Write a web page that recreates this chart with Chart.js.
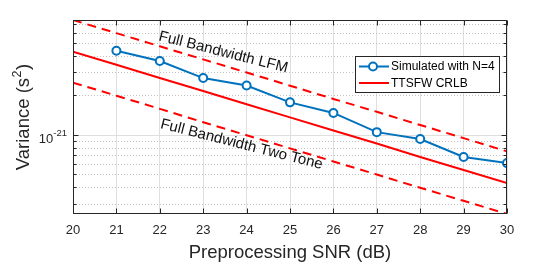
<!DOCTYPE html>
<html>
<head>
<meta charset="utf-8">
<script src="https://cdn.jsdelivr.net/npm/chart.js@4/dist/chart.umd.min.js"></script>
<style>
    html, body { margin: 0; padding: 0; background: #fff; }
    #wrap { width: 560px; height: 264px; }
</style>
</head>
<body>
<div id="wrap"><canvas id="varChart" width="560" height="264"></canvas></div>
<script>
// Data (variance in s^2 vs preprocessing SNR in dB)
const snrValues = [20, 21, 22, 23, 24, 25, 26, 27, 28, 29, 30];
const simSnrValues = [21, 22, 23, 24, 25, 26, 27, 28, 29, 30];
const simulatedVar = [4.38e-21, 3.65e-21, 2.71e-21, 2.38e-21, 1.77e-21, 1.47e-21, 1.05e-21, 9.3e-22, 6.8e-22, 6.1e-22];
const crlbVar = [4.3e-21, 3.42e-21, 2.71e-21, 2.16e-21, 1.71e-21, 1.36e-21, 1.08e-21, 8.6e-22, 6.8e-22, 5.4e-22, 4.3e-22];
const lfmVar = [7.5e-21, 5.96e-21, 4.73e-21, 3.76e-21, 2.99e-21, 2.37e-21, 1.88e-21, 1.5e-21, 1.19e-21, 9.45e-22, 7.5e-22];
const twoToneVar = [2.5e-21, 1.99e-21, 1.58e-21, 1.25e-21, 9.95e-22, 7.9e-22, 6.28e-22, 4.99e-22, 3.96e-22, 3.15e-22, 2.5e-22];

const seriesLabels = ['Simulated with N=4', 'TTSFW CRLB', 'Full Bandwidth LFM', 'Full Bandwidth Two Tone'];
const xTickValues = [20, 21, 22, 23, 24, 25, 26, 27, 28, 29, 30];
const yMajorValues = [1e-21];
const yMinorValues = [3e-22, 4e-22, 5e-22, 6e-22, 7e-22, 8e-22, 9e-22, 2e-21, 3e-21, 4e-21, 5e-21, 6e-21, 7e-21];

const X_TITLE = 'Preprocessing SNR (dB)';

// text labels laid along the dashed bounds (baseline centre, in data units)
const boundNotes = [
    { text: seriesLabels[2], x: 23.44, y: 3.96e-21 },
    { text: seriesLabels[3], x: 23.86, y: 7.88e-22 }
];

const FONT = '"Liberation Sans", Arial, Helvetica, sans-serif';
const AXIS_COLOR = '#262626';
const BLUE = '#0072BD';
const RED = '#FF0000';

const toPoints = (xs, ys) => xs.map((x, i) => ({ x: x, y: ys[i] }));

function crisp(v) {
    return Math.round(v) + 0.5;
}

// MATLAB-ish axes: minor grid, box, inward ticks, titles, legend, notes
const matlabAxes = {
    id: 'matlabAxes',
    beforeDatasetsDraw(chart) {
        const { ctx, chartArea: a, scales: { y } } = chart;
        ctx.save();
        ctx.lineWidth = 1;
        ctx.strokeStyle = '#c2c2c2';
        ctx.setLineDash([1, 2]);
        yMinorValues.forEach(v => {
            const py = crisp(y.getPixelForValue(v));
            ctx.beginPath();
            ctx.moveTo(a.left, py);
            ctx.lineTo(a.right, py);
            ctx.stroke();
        });
        ctx.setLineDash([]);
        ctx.strokeStyle = '#dfdfdf';
        yMajorValues.forEach(v => {
            const py = crisp(y.getPixelForValue(v));
            ctx.beginPath();
            ctx.moveTo(a.left, py);
            ctx.lineTo(a.right, py);
            ctx.stroke();
        });
        ctx.restore();
    },
    afterDatasetsDraw(chart) {
        const { ctx, chartArea: a, scales: { x, y } } = chart;
        ctx.save();

        // box
        ctx.strokeStyle = AXIS_COLOR;
        ctx.lineWidth = 1;
        const L = crisp(a.left), R = crisp(a.right) - 1, T = crisp(a.top), B = crisp(a.bottom) - 1;
        ctx.strokeRect(L, T, R - L, B - T);

        // inward ticks
        ctx.beginPath();
        xTickValues.forEach(v => {
            const px = crisp(x.getPixelForValue(v));
            ctx.moveTo(px, B); ctx.lineTo(px, B - 5);
            ctx.moveTo(px, T); ctx.lineTo(px, T + 5);
        });
        yMajorValues.forEach(v => {
            const py = crisp(y.getPixelForValue(v));
            ctx.moveTo(L, py); ctx.lineTo(L + 5, py);
            ctx.moveTo(R, py); ctx.lineTo(R - 5, py);
        });
        yMinorValues.forEach(v => {
            const py = crisp(y.getPixelForValue(v));
            ctx.moveTo(L, py); ctx.lineTo(L + 3, py);
            ctx.moveTo(R, py); ctx.lineTo(R - 3, py);
        });
        ctx.stroke();

        // y tick label 10^-21
        ctx.fillStyle = AXIS_COLOR;
        ctx.textBaseline = 'alphabetic';
        yMajorValues.forEach(v => {
            const py = y.getPixelForValue(v);
            const exp = String(Math.round(Math.log10(v)));
            ctx.font = '9.5px ' + FONT;
            const ew = ctx.measureText(exp).width;
            ctx.textAlign = 'left';
            ctx.fillText(exp, a.left - 6 - ew, py + 1.5);
            ctx.font = '13px ' + FONT;
            ctx.textAlign = 'right';
            ctx.fillText('10', a.left - 6 - ew, py + 8);
        });

        // y title with superscript
        ctx.save();
        ctx.translate(22, (a.top + a.bottom) / 2);
        ctx.rotate(-Math.PI / 2);
        const big = '18.5px ' + FONT, small = '12.5px ' + FONT;
        ctx.font = big;
        const w1 = ctx.measureText('Variance (s').width;
        const w3 = ctx.measureText(')').width;
        ctx.font = small;
        const w2 = ctx.measureText('2').width + 1;
        let sx = -(w1 + w2 + w3) / 2;
        ctx.textAlign = 'left';
        ctx.font = big;
        ctx.fillText('Variance (s', sx, 6.5);
        ctx.font = small;
        ctx.fillText('2', sx + w1 + 0.5, -1.5);
        ctx.font = big;
        ctx.fillText(')', sx + w1 + w2, 6.5);
        ctx.restore();

        // x title
        ctx.font = '18.5px ' + FONT;
        ctx.textAlign = 'center';
        ctx.fillText(X_TITLE, (a.left + a.right) / 2, 258);

        // bound notes
        ctx.fillStyle = '#111';
        ctx.font = '15px ' + FONT;
        boundNotes.forEach(n => {
            ctx.save();
            ctx.translate(x.getPixelForValue(n.x), y.getPixelForValue(n.y));
            ctx.rotate(14.2 * Math.PI / 180);
            ctx.textAlign = 'center';
            ctx.fillText(n.text, 0, 0);
            ctx.restore();
        });

        // legend (first two datasets)
        const bx = a.right - 152, by = a.top + 36, bw = 144, bh = 36;
        ctx.fillStyle = '#fff';
        ctx.fillRect(bx, by, bw, bh);
        ctx.strokeStyle = AXIS_COLOR;
        ctx.strokeRect(crisp(bx), crisp(by), bw, bh);
        ctx.font = '12px ' + FONT;
        ctx.textAlign = 'left';
        ctx.textBaseline = 'middle';
        chart.data.datasets.slice(0, 2).forEach((ds, i) => {
            const ly = by + 10.5 + i * 16.5;
            ctx.strokeStyle = ds.borderColor;
            ctx.lineWidth = 2;
            ctx.beginPath();
            ctx.moveTo(bx + 4, ly);
            ctx.lineTo(bx + 34, ly);
            ctx.stroke();
            if (ds.pointRadius > 0) {
                ctx.beginPath();
                ctx.arc(bx + 18, ly, ds.pointRadius, 0, Math.PI * 2);
                ctx.fillStyle = '#fff';
                ctx.fill();
                ctx.stroke();
            }
            ctx.fillStyle = '#000';
            ctx.fillText(ds.label, bx + 36, ly + 0.5);
        });

        ctx.restore();
    }
};

const ctx = document.getElementById('varChart').getContext('2d');
new Chart(ctx, {
    type: 'line',
    data: {
        datasets: [
            {
                label: seriesLabels[0],
                data: toPoints(simSnrValues, simulatedVar),
                borderColor: BLUE,
                borderWidth: 2,
                pointRadius: 4,
                pointBorderWidth: 2,
                pointBorderColor: BLUE,
                pointBackgroundColor: '#fff',
                tension: 0
            },
            {
                label: seriesLabels[1],
                data: toPoints(snrValues, crlbVar),
                borderColor: RED,
                borderWidth: 2,
                pointRadius: 0
            },
            {
                label: seriesLabels[2],
                data: toPoints(snrValues, lfmVar),
                borderColor: RED,
                borderWidth: 2,
                borderDash: [9, 6],
                pointRadius: 0
            },
            {
                label: seriesLabels[3],
                data: toPoints(snrValues, twoToneVar),
                borderColor: RED,
                borderWidth: 2,
                borderDash: [9, 6],
                pointRadius: 0
            }
        ]
    },
    options: {
        responsive: false,
        devicePixelRatio: 1,
        animation: false,
        layout: { padding: { top: 20, right: 53, left: 0, bottom: 0 } },
        plugins: {
            legend: { display: false },
            tooltip: { enabled: false }
        },
        scales: {
            x: {
                type: 'linear',
                min: 20,
                max: 30,
                afterBuildTicks: scale => { scale.ticks = xTickValues.map(v => ({ value: v })); },
                afterFit: scale => { scale.height = 50; },
                ticks: {
                    color: AXIS_COLOR,
                    font: { family: FONT, size: 13 },
                    padding: 9,
                    maxRotation: 0,
                    autoSkip: false
                },
                grid: { color: '#dfdfdf', drawTicks: false },
                border: { display: false }
            },
            y: {
                type: 'logarithmic',
                min: 2.5e-22,
                max: 7.5e-21,
                afterFit: scale => { scale.width = 73; },
                ticks: { display: false },
                grid: { display: false },
                border: { display: false }
            }
        }
    },
    plugins: [matlabAxes]
});
</script>
</body>
</html>
